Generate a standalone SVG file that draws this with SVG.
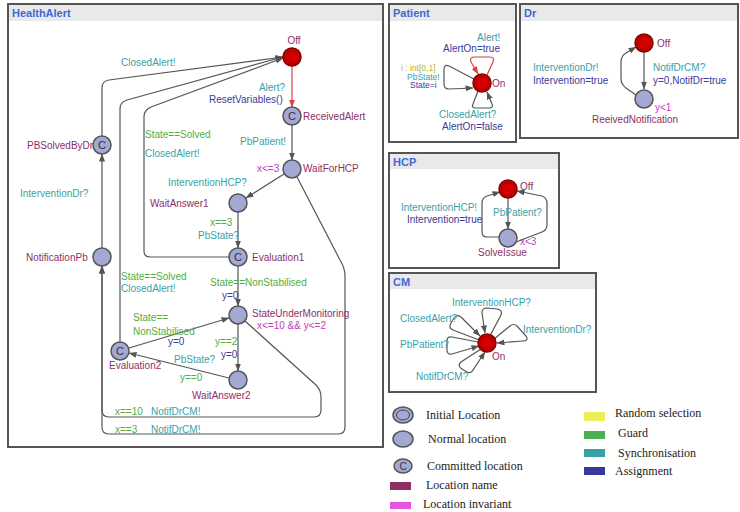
<svg xmlns="http://www.w3.org/2000/svg" width="740" height="512" viewBox="0 0 740 512">
<style>
text{font-family:"Liberation Sans",Arial,sans-serif;font-size:10px}
.title{font-weight:bold;font-size:11px;fill:#3f68d8}
.panel{fill:#fff;stroke:#555;stroke-width:2}
.bar{fill:#e9e9e9}
.nm{fill:#8e2f63}
.inv{fill:#c040c0}
.gd{fill:#4fae3f}
.sy{fill:#3a9fa8}
.as{fill:#3a3a9a}
.sel{fill:#b9b02a}
.sm{font-size:8.5px}
.edge{fill:none;stroke:#555;stroke-width:1.2;marker-end:url(#ah)}
.redge{fill:none;stroke:#d84040;stroke-width:1.2;marker-end:url(#ahr)}
.loc{fill:#a3a9d4;stroke:#555;stroke-width:1.5}
.init{fill:#c40000;stroke:#8a0000;stroke-width:1.5}
.initin{fill:#d40000;stroke:#a00000;stroke-width:0.8}
.c{font-size:11px;fill:#333;text-anchor:middle}
.leg{font-family:"Liberation Serif","Times New Roman",serif;font-size:12px;fill:#222}
</style>
<defs>
<marker id="ah" viewBox="0 0 8 6" refX="7.5" refY="3" markerWidth="8" markerHeight="6" markerUnits="userSpaceOnUse" orient="auto"><path d="M0,0 L8,3 L0,6 z" fill="#555"/></marker>
<marker id="ahr" viewBox="0 0 8 6" refX="7.5" refY="3" markerWidth="8" markerHeight="6" markerUnits="userSpaceOnUse" orient="auto"><path d="M0,0 L8,3 L0,6 z" fill="#d84040"/></marker>
</defs>

<!-- Panels -->
<g id="panel-healthalert">
<rect class="panel" x="8" y="4" width="375" height="443"/>
<rect class="bar" x="9" y="5" width="373" height="16"/>
<text class="title" x="12" y="17">HealthAlert</text>
</g>
<g id="panel-patient">
<rect class="panel" x="389" y="4" width="127" height="138"/>
<rect class="bar" x="390" y="5" width="125" height="16"/>
<text class="title" x="393" y="17">Patient</text>
</g>
<g id="panel-dr">
<rect class="panel" x="520" y="4" width="218" height="134"/>
<rect class="bar" x="521" y="5" width="216" height="16"/>
<text class="title" x="524" y="17">Dr</text>
</g>
<g id="panel-hcp">
<rect class="panel" x="389" y="153" width="170" height="115"/>
<rect class="bar" x="390" y="154" width="168" height="15"/>
<text class="title" x="393" y="166">HCP</text>
</g>
<g id="panel-cm">
<rect class="panel" x="389" y="273" width="207" height="119"/>
<rect class="bar" x="390" y="274" width="205" height="15"/>
<text class="title" x="393" y="286">CM</text>
</g>

<!-- Connectors -->
<g id="connectors">
<!-- HealthAlert -->
<path class="redge" d="M292 66 L292 107"/>
<path class="edge" d="M292 125 L292 160"/>
<path class="edge" d="M284 174 L246 198"/>
<path class="edge" d="M238 212 L238 248"/>
<path class="edge" d="M238 266 L238 306"/>
<path class="edge" d="M238 324 L238 371"/>
<path class="edge" d="M229 378 L129 353"/>
<path class="edge" d="M129 348 L229 318"/>
<path class="edge" d="M229 257 L150 257 Q144 257 144 251 L144 117 Q144 110 151 107 L283 58"/>
<path class="edge" d="M120 342 L120 109 Q120 102 127 100 L283 57"/>
<path class="edge" d="M102 136 L102 88 Q102 81 109 80 L283 57"/>
<path class="edge" d="M102 248 L102 154"/>
<path class="edge" d="M297 177 L340 260 Q345 268 345 276 L345 427 Q345 434 338 434 L109 434 Q102 434 102 427 L102 266"/>
<path class="edge" d="M245 321 L316 385 Q321 390 321 397 L321 410 Q321 417 314 417 L109 417 Q102 417 102 410 L102 266"/>
<!-- Patient -->
<path class="redge" d="M487 75 L493 62 Q495 57 490 57 L475 57 Q469 57 471 62 L478 74"/>
<path class="edge" d="M474 79 L449 66 Q444 64 444 69 L444 84 Q444 89 449 89 L473 88"/>
<path class="edge" d="M478 91 L473 104 Q471 108 476 108 L489 108 Q494 108 492 104 L487 92"/>
<!-- Dr -->
<path class="edge" d="M644 52 L644 89"/>
<path class="edge" d="M636 95 L626 88 Q621 84 621 79 L621 62 Q621 56 626 53 L636 47"/>
<!-- HCP -->
<path class="edge" d="M508 198 L508 229"/>
<path class="edge" d="M500 237 L487 237 Q482 237 482 232 L482 203 Q482 198 487 196 L500 192"/>
<path class="edge" d="M516 242 L542 232 Q547 230 547 225 L547 203 Q547 198 542 196 L517 191"/>
<!-- CM -->
<path class="edge" d="M491 334 L501 315 Q503 310 497 309 L487 308 Q482 308 482 313 L485 333"/>
<path class="edge" d="M479 340 L453 330 Q448 328 451 323 L454 318 Q457 314 461 317 L480 336"/>
<path class="edge" d="M494 339 L510 326 Q514 323 517 326 L526 336 Q529 341 523 341 L497 343"/>
<path class="edge" d="M478 342 L452 337 Q447 336 447 341 L447 350 Q447 355 452 354 L479 346"/>
<path class="edge" d="M481 349 L461 362 Q457 366 462 369 L467 372 Q471 374 473 370 L485 352"/>
</g>

<!-- Edge labels HealthAlert -->
<g id="labels-healthalert">
<text class="sy" x="285" y="91" text-anchor="end">Alert?</text>
<text class="as" x="209" y="103">ResetVariables()</text>
<text class="sy" x="121" y="66">ClosedAlert!</text>
<text class="gd" x="145" y="138">State==Solved</text>
<text class="sy" x="145" y="157">ClosedAlert!</text>
<text class="sy" x="240" y="145">PbPatient!</text>
<text class="sy" x="168" y="186">InterventionHCP?</text>
<text class="gd" x="210" y="226">x==3</text>
<text class="sy" x="198" y="239">PbState?</text>
<text class="sy" x="20" y="197">InterventionDr?</text>
<text class="gd" x="121" y="280">State==Solved</text>
<text class="sy" x="121" y="292">ClosedAlert!</text>
<text class="gd" x="210" y="286">State==NonStabilised</text>
<text class="as" x="222" y="299">y=0</text>
<text class="gd" x="133" y="321">State==</text>
<text class="gd" x="133" y="335">NonStabilised</text>
<text class="as" x="168" y="345">y=0</text>
<text class="gd" x="215" y="345">y==2</text>
<text class="as" x="221" y="358">y=0</text>
<text class="sy" x="174" y="363">PbState?</text>
<text class="gd" x="180" y="381">y==0</text>
<text class="gd" x="115" y="415">x==10</text>
<text class="sy" x="151" y="415">NotifDrCM!</text>
<text class="gd" x="115" y="433">x==3</text>
<text class="sy" x="151" y="433">NotifDrCM!</text>
</g>

<!-- HealthAlert nodes -->
<g id="ha-off"><circle class="init" cx="292" cy="57" r="9"/><circle class="initin" cx="292" cy="57" r="6"/><text class="nm" x="294" y="44" text-anchor="middle">Off</text></g>
<g id="ha-receivedalert"><circle class="loc" cx="292" cy="116" r="9"/><text class="c" x="292" y="120">C</text><text class="nm" x="303" y="120">ReceivedAlert</text></g>
<g id="ha-waitforhcp"><circle class="loc" cx="292" cy="169" r="9"/><text class="inv" x="257" y="172">x&lt;=3</text><text class="nm" x="303" y="172">WaitForHCP</text></g>
<g id="ha-waitanswer1"><circle class="loc" cx="238" cy="203" r="9"/><text class="nm" x="150" y="207">WaitAnswer1</text></g>
<g id="ha-evaluation1"><circle class="loc" cx="238" cy="257" r="9"/><text class="c" x="238" y="261">C</text><text class="nm" x="252" y="261">Evaluation1</text></g>
<g id="ha-stateundermonitoring"><circle class="loc" cx="238" cy="315" r="9"/><text class="nm" x="252" y="317">StateUnderMonitoring</text><text class="inv" x="257" y="329">x&lt;=10 &amp;&amp; y&lt;=2</text></g>
<g id="ha-waitanswer2"><circle class="loc" cx="238" cy="380" r="9"/><text class="nm" x="192" y="399">WaitAnswer2</text></g>
<g id="ha-evaluation2"><circle class="loc" cx="120" cy="351" r="9"/><text class="c" x="120" y="355">C</text><text class="nm" x="109" y="369">Evaluation2</text></g>
<g id="ha-notificationpb"><text class="nm" x="26" y="261">NotificationPb</text><circle class="loc" cx="102" cy="257" r="9"/></g>
<g id="ha-pbsolvedbydr"><text class="nm" x="27" y="149">PBSolvedByDr</text><circle class="loc" cx="102" cy="145" r="9"/><text class="c" x="102" y="149">C</text></g>

<!-- Patient -->
<g id="patient-on">
<circle class="init" cx="482" cy="83" r="9"/><circle class="initin" cx="482" cy="83" r="6"/>
<text class="nm" x="492" y="87">On</text>
<text class="sy" x="477" y="41">Alert!</text>
<text class="as" x="443" y="52">AlertOn=true</text>
<text class="sel sm" x="401" y="71">i : int[0,1]</text>
<text class="sy sm" x="407" y="79.5">PbState!</text>
<text class="as sm" x="410" y="88">State=i</text>
<text class="sy" x="439" y="118">ClosedAlert?</text>
<text class="as" x="442" y="130">AlertOn=false</text>
</g>

<!-- Dr -->
<g id="dr-off"><circle class="init" cx="644" cy="43" r="9"/><circle class="initin" cx="644" cy="43" r="6"/><text class="nm" x="657" y="47">Off</text></g>
<g id="dr-reeivednotification"><circle class="loc" cx="644" cy="99" r="9"/><text class="inv" x="655" y="111">y&lt;1</text><text class="nm" x="592" y="123">ReeivedNotification</text></g>
<g id="dr-labels">
<text class="sy" x="653" y="71">NotifDrCM?</text>
<text class="as" x="653" y="84">y=0,NotifDr=true</text>
<text class="sy" x="533" y="71">InterventionDr!</text>
<text class="as" x="533" y="84">Intervention=true</text>
</g>

<!-- HCP -->
<g id="hcp-off"><circle class="init" cx="508" cy="189" r="9"/><circle class="initin" cx="508" cy="189" r="6"/><text class="nm" x="520" y="190">Off</text></g>
<g id="hcp-solveissue"><circle class="loc" cx="508" cy="238" r="9"/><text class="inv" x="520" y="245">x&lt;3</text><text class="nm" x="478" y="256">SolveIssue</text></g>
<g id="hcp-labels">
<text class="sy" x="493" y="216">PbPatient?</text>
<text class="sy" x="401" y="211">InterventionHCP!</text>
<text class="as" x="407" y="223">Intervention=true</text>
</g>

<!-- CM -->
<g id="cm-on"><circle class="init" cx="487" cy="343" r="9"/><circle class="initin" cx="487" cy="343" r="6"/><text class="nm" x="492" y="360">On</text></g>
<g id="cm-labels">
<text class="sy" x="452" y="306">InterventionHCP?</text>
<text class="sy" x="400" y="322">ClosedAlert?</text>
<text class="sy" x="523" y="333">InterventionDr?</text>
<text class="sy" x="400" y="348">PbPatient?</text>
<text class="sy" x="416" y="380">NotifDrCM?</text>
</g>

<!-- Legend -->
<g id="legend">
<ellipse class="loc" cx="403" cy="415" rx="10" ry="8"/><ellipse cx="403" cy="415" rx="6.5" ry="5" fill="none" stroke="#444" stroke-width="1"/>
<text class="leg" x="426" y="419">Initial Location</text>
<ellipse class="loc" cx="403" cy="439" rx="10" ry="8"/>
<text class="leg" x="428" y="443">Normal location</text>
<ellipse class="loc" cx="403" cy="466" rx="9" ry="7"/><text class="c" x="403" y="470" style="font-size:10px">C</text>
<text class="leg" x="427" y="470">Committed location</text>
<rect x="390" y="482" width="21" height="8" fill="#8e2f63"/>
<text class="leg" x="426" y="489">Location name</text>
<rect x="390" y="502" width="21" height="7" fill="#e354e0"/>
<text class="leg" x="423" y="508">Location invariant</text>
<rect x="584" y="412" width="21" height="9" fill="#eded5a"/>
<text class="leg" x="615" y="417">Random selection</text>
<rect x="584" y="431" width="21" height="8" fill="#4caf50"/>
<text class="leg" x="618" y="437">Guard</text>
<rect x="584" y="449" width="21" height="8" fill="#3aa0a5"/>
<text class="leg" x="618" y="457">Synchronisation</text>
<rect x="584" y="467" width="21" height="8" fill="#38389a"/>
<text class="leg" x="615" y="475">Assignment</text>
</g>
</svg>
